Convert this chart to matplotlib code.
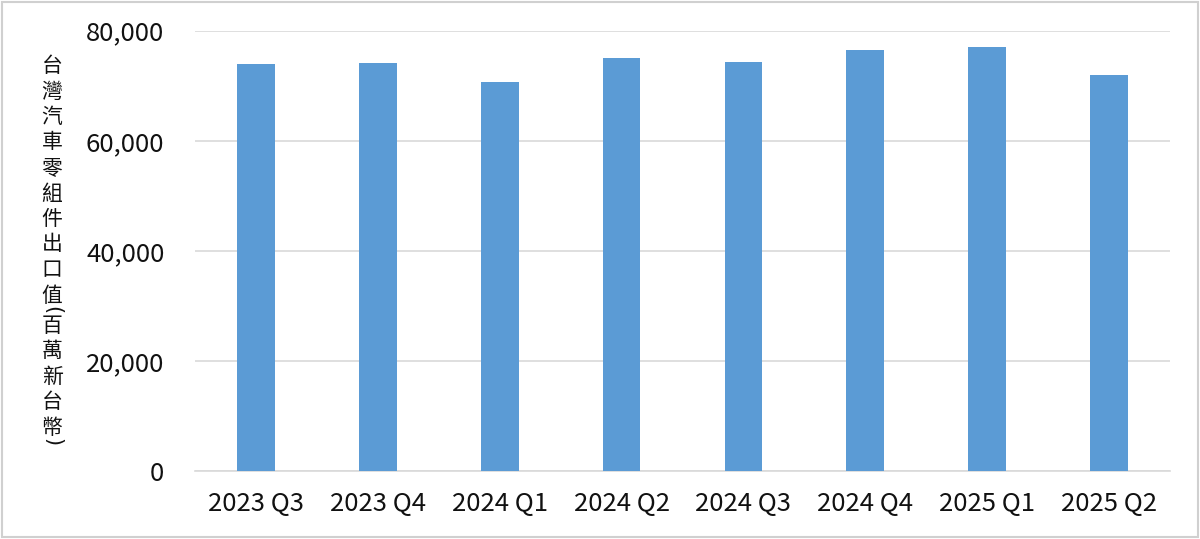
import matplotlib
matplotlib.use("Agg")
import matplotlib.pyplot as plt
from matplotlib.ticker import FuncFormatter
from matplotlib.patches import Rectangle

categories = ["2023 Q3", "2023 Q4", "2024 Q1", "2024 Q2", "2024 Q3", "2024 Q4", "2025 Q1", "2025 Q2"]
values = [73900, 74200, 70700, 75000, 74300, 76500, 77000, 71900]
yticks = [0, 20000, 40000, 60000, 80000]
ylabel = "台灣汽車零組件出口值(百萬新台幣)"

plt.rcParams['font.family'] = ['Noto Sans CJK TC', 'DejaVu Sans']

W, H = 1200, 539
fig = plt.figure(figsize=(W / 100, H / 100), dpi=100)
ax = fig.add_axes([0.1625, 0.126, 0.8125, 0.817])

x = range(len(categories))
ax.bar(x, values, width=0.31, color="#5B9BD5", zorder=3)
ax.set_xlim(-0.5, len(categories) - 0.5)
ax.set_ylim(0, 80000)
ax.set_yticks(yticks)
ax.yaxis.set_major_formatter(FuncFormatter(lambda v, p: f"{int(v):,}"))
ax.set_xticks(list(x))
ax.set_xticklabels(categories)
ax.grid(axis="y", color="#d9d9d9", linewidth=1.2, zorder=0)
for s in ["top", "right", "left"]:
    ax.spines[s].set_visible(False)
ax.spines["bottom"].set_color("#d9d9d9")
ax.spines["bottom"].set_linewidth(1.2)
ax.tick_params(axis="both", length=0, labelsize=18.5, colors="#111111")
ax.tick_params(axis="x", pad=14)
ax.tick_params(axis="y", pad=22)

# vertical (stacked) y-axis label, characters upright, parentheses rotated
ypix = 66.0
prev_paren = False
for i, ch in enumerate(ylabel):
    is_paren = ch in "()"
    if i > 0:
        ypix += 15.0 if (is_paren or prev_paren) else 25.5
    if is_paren:
        fig.text(52 / W, 1 - ypix / H, ch, fontsize=15, ha="center", va="center",
                 rotation=270, family=['DejaVu Sans'], color="#111111")
    else:
        fig.text(52 / W, 1 - ypix / H, ch, fontsize=15, ha="center", va="center",
                 family=['Noto Sans CJK TC', 'DejaVu Sans'], color="#111111",
                 fontweight="medium")
    prev_paren = is_paren

fig.patches.append(Rectangle((0.002, 0.003), 0.996, 0.994, transform=fig.transFigure,
                             fill=False, edgecolor="#d0d0d0", linewidth=1.5))

fig.savefig("out.png", dpi=100)
